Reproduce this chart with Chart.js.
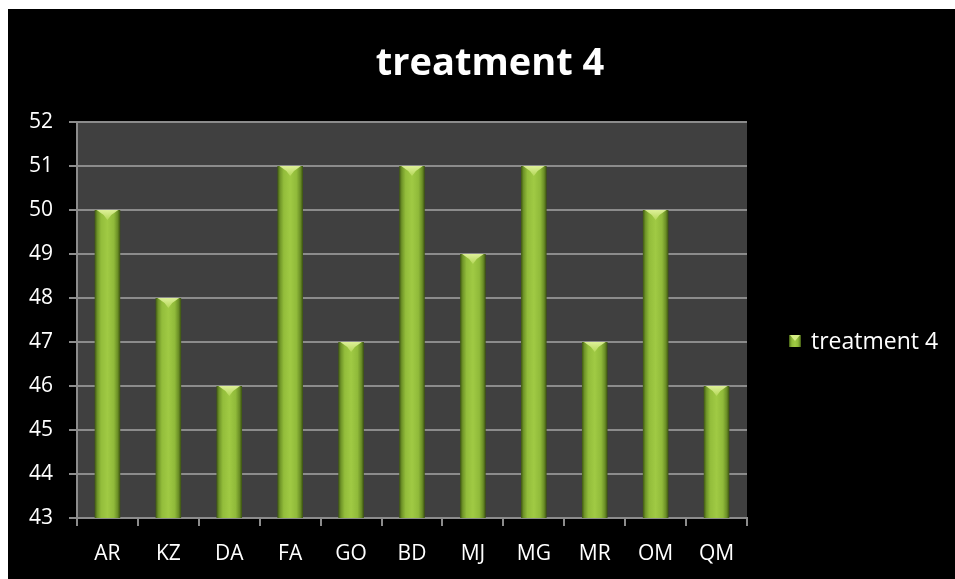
<!DOCTYPE html>
<html>
<head>
<meta charset="utf-8">
<script src="https://cdn.jsdelivr.net/npm/chart.js@4"></script>
<style>
  html, body { margin: 0; padding: 0; background: #ffffff; }
  body { width: 955px; height: 579px; overflow: hidden; position: relative; }
  #wrap { position: absolute; left: 8px; top: 9px; width: 947px; height: 570px; background: #000000; }
  canvas { display: block; }
</style>
</head>
<body>
<div id="wrap"><canvas id="c" width="947" height="570"></canvas></div>
<script>
const categories = ['AR', 'KZ', 'DA', 'FA', 'GO', 'BD', 'MJ', 'MG', 'MR', 'OM', 'QM'];
const treatment4 = [50, 48, 46, 51, 47, 51, 49, 51, 47, 50, 46];
const seriesName = 'treatment 4';
const titleText = 'treatment 4';
const yMin = 43, yMax = 52, yStep = 1;

const FONT = "'Open Sans', 'Noto Sans', sans-serif";
const BAR_PCT = 0.42;

// horizontal gradient across a bar: dark olive edges, bright green middle
function barGradient(ctx, x0, x1) {
  const g = ctx.createLinearGradient(x0, 0, x1, 0);
  g.addColorStop(0.00, '#3e5612');
  g.addColorStop(0.10, '#6f9428');
  g.addColorStop(0.25, '#93bd3b');
  g.addColorStop(0.50, '#a0ca44');
  g.addColorStop(0.75, '#90ba3a');
  g.addColorStop(0.90, '#6a8e26');
  g.addColorStop(1.00, '#3a5010');
  return g;
}

const plotBackground = {
  id: 'plotBackground',
  beforeDraw(chart) {
    const { ctx, chartArea: a } = chart;
    ctx.save();
    ctx.fillStyle = '#404040';
    ctx.fillRect(a.left, a.top, a.right - a.left, a.bottom - a.top);
    ctx.restore();
  }
};

// chart heading
const heading = {
  id: 'heading',
  afterDraw(chart) {
    const { ctx } = chart;
    ctx.save();
    ctx.fillStyle = '#ffffff';
    ctx.font = 'bold 38px ' + FONT;
    ctx.textAlign = 'center';
    ctx.textBaseline = 'alphabetic';
    ctx.fillText(titleText, 482, 66);
    ctx.restore();
  }
};

// light bevel on top of each bar
const barBevel = {
  id: 'barBevel',
  afterDatasetsDraw(chart) {
    const { ctx } = chart;
    const meta = chart.getDatasetMeta(0);
    ctx.save();
    meta.data.forEach(bar => {
      const half = bar.width / 2;
      const l = bar.x - half, r = bar.x + half, t = bar.y;
      const d = Math.min(10, bar.width * 0.4);
      const g = ctx.createLinearGradient(0, t, 0, t + d);
      g.addColorStop(0, '#eaf8a8');
      g.addColorStop(1, '#b8da5c');
      ctx.fillStyle = g;
      ctx.beginPath();
      ctx.moveTo(l + 2, t);
      ctx.lineTo(r - 2, t);
      ctx.lineTo(r - d * 0.9, t + d * 0.5);
      ctx.lineTo(bar.x, t + d);
      ctx.lineTo(l + d * 0.9, t + d * 0.5);
      ctx.closePath();
      ctx.globalAlpha = 0.85;
      ctx.fill();
    });
    ctx.restore();
  }
};

// series key drawn at the right of the plot
const sideLegend = {
  id: 'sideLegend',
  afterDraw(chart) {
    const { ctx } = chart;
    const x = 781, y = 332, s = 12;
    ctx.save();
    ctx.fillStyle = barGradient(ctx, x, x + s);
    ctx.fillRect(x, y - s / 2, s, s);
    ctx.fillStyle = '#d6ee84';
    ctx.beginPath();
    ctx.moveTo(x + 1, y - s / 2);
    ctx.lineTo(x + s - 1, y - s / 2);
    ctx.lineTo(x + s / 2, y);
    ctx.closePath();
    ctx.fill();
    ctx.fillStyle = '#ffffff';
    ctx.font = '23px ' + FONT;
    ctx.textBaseline = 'middle';
    ctx.textAlign = 'left';
    ctx.fillText(chart.data.datasets[0].label, 803, y + 1);
    ctx.restore();
  }
};

new Chart(document.getElementById('c'), {
  type: 'bar',
  data: {
    labels: categories,
    datasets: [{
      label: seriesName,
      data: treatment4,
      // each bar gets its own left-to-right shading, placed from the x scale
      backgroundColor: (c) => {
        const xs = c.chart.scales.x;
        if (!xs || c.dataIndex === undefined) return '#8cb83a';
        const cx = xs.getPixelForValue(c.dataIndex);
        const w = (xs.width / categories.length) * BAR_PCT;
        if (!isFinite(cx) || !isFinite(w) || w <= 0) return '#8cb83a';
        return barGradient(c.chart.ctx, cx - w / 2, cx + w / 2);
      },
      borderWidth: 0,
      barPercentage: BAR_PCT,
      categoryPercentage: 1.0
    }]
  },
  options: {
    responsive: false,
    animation: false,
    devicePixelRatio: 1,
    layout: { padding: { left: 9, right: 208, top: 113, bottom: 0 } },
    plugins: {
      legend: { display: false },
      tooltip: { enabled: false },
      title: { display: false }
    },
    scales: {
      x: {
        offset: true,
        grid: {
          offset: true,
          drawOnChartArea: false,
          drawTicks: true,
          tickLength: 8,
          color: '#8c8c8c',
          lineWidth: 2
        },
        border: { color: '#8c8c8c', width: 2 },
        ticks: { color: '#ffffff', font: { family: FONT, size: 21 }, padding: 15, maxRotation: 0 },
        afterFit(s) { s.height = 61; }
      },
      y: {
        min: yMin,
        max: yMax,
        grid: {
          color: '#8c8c8c',
          lineWidth: 2,
          drawTicks: true,
          tickLength: 8
        },
        border: { color: '#8c8c8c', width: 2 },
        ticks: { stepSize: yStep, color: '#ffffff', font: { family: FONT, size: 21 }, padding: 16 },
        afterFit(s) { s.width = 60; }
      }
    }
  },
  plugins: [plotBackground, barBevel, sideLegend, heading]
});
</script>
</body>
</html>
